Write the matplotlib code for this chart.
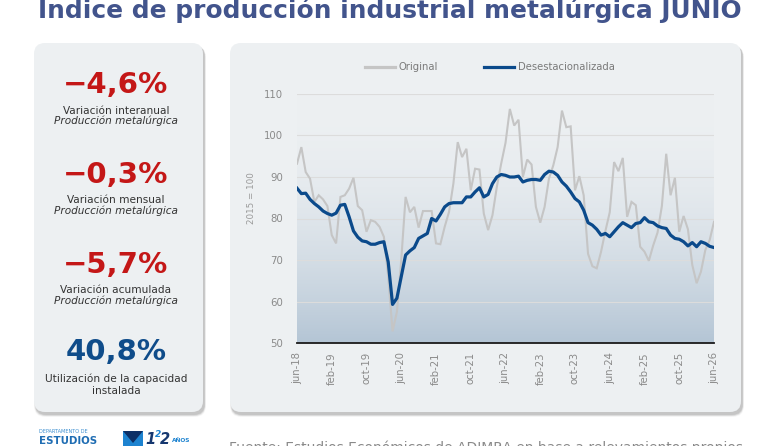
import numpy as np
import matplotlib
matplotlib.use("Agg")
import matplotlib.pyplot as plt
from matplotlib.patches import FancyBboxPatch, Rectangle, Polygon
from matplotlib.transforms import IdentityTransform
from matplotlib.colors import to_rgb

# ---------------- data ----------------
original = [93.2, 97.2, 91.2, 89.6, 84.0, 85.6, 84.6, 83.0, 76.0, 74.0,
            85.2, 85.6, 87.2, 89.8, 83.0, 82.0, 76.8, 79.6, 79.2, 78.0,
            75.6, 66.0, 52.8, 57.5, 70.0, 85.2, 81.5, 82.8, 77.8, 81.8,
            81.8, 81.8, 74.0, 73.8, 78.0, 81.6, 88.4, 98.4, 94.8, 96.8,
            86.8, 92.0, 91.8, 81.2, 77.2, 80.8, 87.6, 93.2, 98.2, 106.4,
            102.4, 103.8, 90.0, 94.2, 93.0, 82.8, 79.0, 82.8, 89.6, 92.8,
            97.2, 106.0, 102.0, 102.2, 86.8, 90.2, 85.6, 71.5, 68.5, 68.0,
            72.0, 77.0, 81.5, 93.6, 91.4, 94.6, 80.4, 84.0, 83.2, 73.2,
            72.0, 69.8, 73.5, 76.6, 83.0, 95.6, 85.6, 89.8, 76.8, 80.6,
            77.4, 68.8, 64.4, 67.2, 72.4, 74.8, 79.2]
desest = [87.3, 86.0, 86.1, 84.6, 83.6, 82.8, 81.8, 81.2, 80.8, 81.3,
          83.2, 83.4, 80.4, 77.0, 75.5, 74.6, 74.4, 73.8, 73.8, 74.2,
          74.4, 69.5, 59.3, 60.8, 66.0, 71.2, 72.2, 73.0, 75.2, 75.8,
          76.4, 80.0, 79.4, 81.0, 82.8, 83.6, 83.8, 83.8, 83.8, 85.2,
          85.2, 86.4, 87.4, 85.2, 85.8, 88.4, 90.0, 90.6, 90.4, 90.0,
          90.0, 90.2, 88.8, 89.2, 89.4, 89.4, 89.2, 90.6, 91.4, 91.2,
          90.4, 88.8, 87.8, 86.4, 84.8, 84.0, 82.0, 79.0, 78.4, 77.4,
          76.0, 76.4, 75.6, 76.8, 78.0, 79.0, 78.4, 77.8, 78.8, 79.0,
          80.2, 79.2, 79.0, 78.2, 77.8, 77.6, 76.0, 75.2, 75.0, 74.4,
          73.4, 74.2, 73.2, 74.4, 74.0, 73.3, 73.0]
tick_labels = ["jun-18", "feb-19", "oct-19", "jun-20", "feb-21", "oct-21", "jun-22",
               "feb-23", "oct-23", "jun-24", "feb-25", "oct-25", "jun-26"]
tick_step = 8
y_ticks = [50, 60, 70, 80, 90, 100, 110]
series_names = ["Original", "Desestacionalizada"]

kpi_values = ["\u22124,6%", "\u22120,3%", "\u22125,7%", "40,8%"]
kpi_line1 = ["Variación interanual", "Variación mensual", "Variación acumulada",
             "Utilización de la capacidad"]
kpi_line2 = ["Producción metalúrgica", "Producción metalúrgica", "Producción metalúrgica",
             "instalada"]

title = "Índice de producción industrial metalúrgica JUNIO"
source = "Fuente: Estudios Económicos de ADIMRA en base a relevamientos propios"

# ---------------- figure ----------------
W, H = 780, 446
plt.rcParams['font.family'] = ['DejaVu Sans']
fig = plt.figure(figsize=(W / 100, H / 100), dpi=100)
fig.patch.set_facecolor('white')
renderer = fig.canvas.get_renderer()
ID = IdentityTransform()

def fx(px):
    return px / W

def fy(py):
    return 1 - py / H

PANEL = '#edf0f2'

def panel(x0, y0, x1, y1, r=11):
    # soft shadow
    for k, a in [(5, 0.025), (4, 0.035), (3, 0.05), (2, 0.06), (1, 0.07)]:
        sh = FancyBboxPatch((x0 + 1.5 - k * 0.3, H - y1 - 2.5 - k * 0.5),
                            (x1 - x0) + k * 0.6, (y1 - y0) + k * 0.4,
                            boxstyle=f"round,pad=0,rounding_size={r}",
                            transform=ID, facecolor='black', edgecolor='none',
                            alpha=a, zorder=0)
        fig.patches.append(sh)
    p = FancyBboxPatch((x0, H - y1), x1 - x0, y1 - y0,
                       boxstyle=f"round,pad=0,rounding_size={r}",
                       transform=ID, facecolor=PANEL, edgecolor='none', zorder=1)
    fig.patches.append(p)

panel(34, 43, 203, 412)
panel(230, 43, 741, 412)

def fit(t, target_w):
    bb = t.get_window_extent(renderer)
    t.set_fontsize(t.get_fontsize() * target_w / bb.width)
    return t.get_fontsize()

# title (partly cut by the top edge, as in the source image)
tt = fig.text(fx(390), fy(18), title, ha='center', va='baseline', fontsize=17,
              fontweight='bold', color='#42548c', zorder=5)
fit(tt, 704)

# KPI texts
cx = fx(116)
big_base = [93, 183, 273, 360]
l1_base = [113.5, 203, 293, 382]
l2_base = [124.5, 214.5, 304.5, 394]
big_cols = ['#c41717', '#c41717', '#c41717', '#0f4c8a']
t0 = fig.text(cx, fy(big_base[0]), kpi_values[0], ha='center', va='baseline',
              fontsize=22, fontweight='bold', color=big_cols[0], zorder=5)
bigsize = fit(t0, 105)
ts = fig.text(cx, fy(l1_base[3]), kpi_line1[3], ha='center', va='baseline',
              fontsize=8, color='#333333', zorder=5)
smallsize = fit(ts, 142)
for i in range(4):
    if i > 0:
        fig.text(cx, fy(big_base[i]), kpi_values[i], ha='center', va='baseline',
                 fontsize=bigsize, fontweight='bold', color=big_cols[i], zorder=5)
    if i < 3:
        fig.text(cx, fy(l1_base[i]), kpi_line1[i], ha='center', va='baseline',
                 fontsize=smallsize, color='#333333', zorder=5)
        fig.text(cx, fy(l2_base[i]), kpi_line2[i], ha='center', va='baseline',
                 fontsize=smallsize, style='italic', color='#333333', zorder=5)
    else:
        fig.text(cx, fy(l2_base[i]), kpi_line2[i], ha='center', va='baseline',
                 fontsize=smallsize, color='#333333', zorder=5)

# ---------------- chart ----------------
ax = fig.add_axes([fx(297), fy(343), (714 - 297) / W, (343 - 94) / H], zorder=3)
ax.patch.set_alpha(0)
n = len(original)
x = np.arange(n)

# background gradient
top = np.array(to_rgb('#edf0f2'))
bot = np.array(to_rgb('#b4c5d5'))
tgrid = np.linspace(0, 1, 256) ** 2.0
grad = top[None, :] * (1 - tgrid[:, None]) + bot[None, :] * tgrid[:, None]
ax.imshow(grad[:, None, :], extent=[0, n - 1, 50, 110], aspect='auto',
          origin='upper', zorder=0, interpolation='bilinear')

ax.plot(x, original, color='#c5c5c5', lw=1.5, label=series_names[0], zorder=3,
        solid_joinstyle='miter')
ax.plot(x, desest, color='#0b4a8b', lw=2.3, label=series_names[1], zorder=4,
        solid_joinstyle='round')

ax.set_xlim(0, n - 1)
ax.set_ylim(50, 110)
ax.set_yticks(y_ticks)
ax.set_xticks(x[::tick_step])
ax.set_xticklabels(tick_labels, rotation=90, fontsize=7.3, color='#8a8a8a')
ax.tick_params(axis='x', length=0, pad=6.5)
ax.tick_params(axis='y', length=0, pad=10, labelsize=7.3, labelcolor='#8a8a8a')
ax.grid(axis='y', color='#dcdcdc', lw=0.8, zorder=1)
ax.set_axisbelow(True)
for s in ['top', 'right', 'left']:
    ax.spines[s].set_visible(False)
ax.spines['bottom'].set_color('#1a1a1a')
ax.spines['bottom'].set_linewidth(1.3)
ax.spines['bottom'].set_zorder(5)
ax.set_ylabel('2015 = 100', fontsize=6.3, color='#9a9a9a')
ax.yaxis.set_label_coords((256 - 297) / 417, (343 - 198) / 249)

leg = ax.legend(ncol=2, loc='center', bbox_to_anchor=(fx(490), fy(67)),
                bbox_transform=fig.transFigure, frameon=False, fontsize=7.2,
                handlelength=3.0, handletextpad=0.35, columnspacing=4.6,
                labelcolor='#7a7a7a')
for lh in leg.get_lines():
    lh.set_linewidth(2.3)

# ---------------- footer ----------------
fig.text(fx(39), fy(433), "DEPARTAMENTO DE", fontsize=3.6, color='#3d8fd0',
         ha='left', va='baseline', zorder=5)
fig.text(fx(38.5), fy(444.5), "ESTUDIOS", fontsize=8.2, fontweight='bold',
         color='#1f6db3', ha='left', va='baseline', zorder=5,
         fontstretch='condensed')
logo = Rectangle((123, H - 447), 20, 16, transform=ID, facecolor='#1d83d0',
                 edgecolor='none', zorder=5)
fig.patches.append(logo)
tri = Polygon([[123, H - 431], [143, H - 431], [133, H - 443]], closed=True,
              transform=ID, facecolor='#0c2f66', edgecolor='none', zorder=6)
fig.patches.append(tri)
fig.text(fx(145.5), fy(444), "1", fontsize=10.5, fontweight='bold', style='italic',
         color='#15376f', ha='left', va='baseline', zorder=5)
fig.text(fx(155), fy(437), "2", fontsize=6.5, fontweight='bold', style='italic',
         color='#1d83d0', ha='left', va='baseline', zorder=5)
fig.text(fx(160), fy(444), "2", fontsize=10.5, fontweight='bold', style='italic',
         color='#15376f', ha='left', va='baseline', zorder=5)
fig.text(fx(172), fy(442), "AÑOS", fontsize=4.2, fontweight='bold',
         color='#1d83d0', ha='left', va='baseline', zorder=5)

st = fig.text(fx(229), fy(452), source, fontsize=10, color='#8a8a8a',
              ha='left', va='baseline', zorder=5)
fit(st, 515)

fig.savefig('out.png', dpi=100, facecolor='white')
